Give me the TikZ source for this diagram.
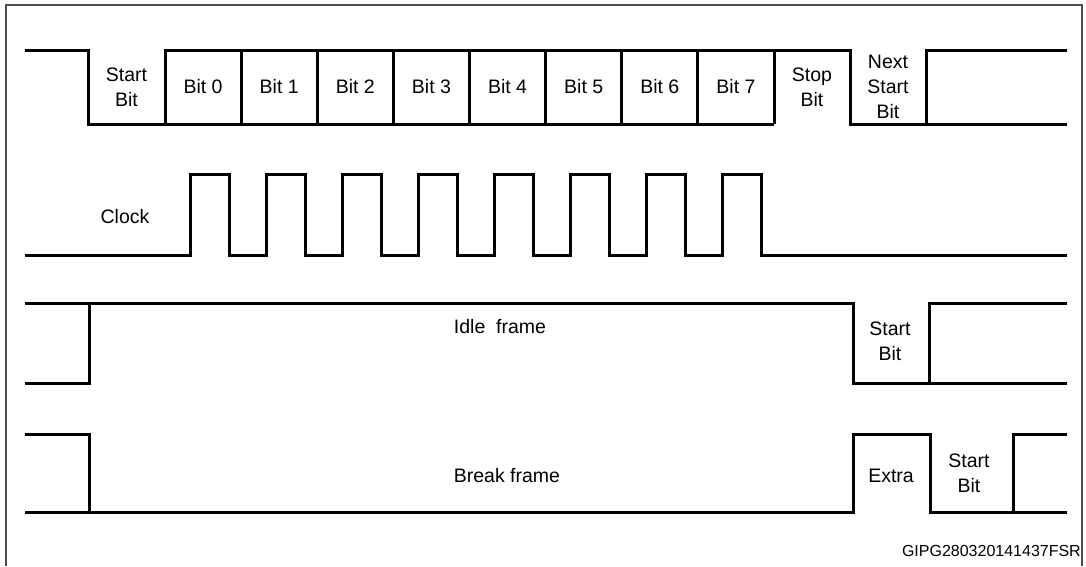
\documentclass[tikz,border=0pt]{standalone}
\usepackage{fontspec}
\setmainfont{Liberation Sans}
\begin{document}
\begin{tikzpicture}[x=1pt,y=-1pt,
  wave/.style={line width=3pt, draw=black},
  frameline/.style={line width=1.5pt, draw=black!70},
  lbl/.style={font=\fontsize{19.5}{25}\selectfont, align=center, inner sep=0pt},
  idlbl/.style={font=\fontsize{16}{19}\selectfont, inner sep=0pt}
  ]
\useasboundingbox (0,0) rectangle (1086,566);
% outer frame
\draw[frameline] (6,566) -- (6,5) -- (1082,5) -- (1082,566);

% ---- data line ----
\draw[wave] (25,50) -- (88,50) -- (88,124) -- (774,124);
\draw[wave] (165,124) -- (165,50) -- (850,50) -- (850,124) -- (926,124) -- (926,50) -- (1067,50);
\draw[wave] (926,124) -- (1067,124);
\foreach \k in {1,...,8} {
  \draw[wave] ({165+76.125*\k},50) -- ({165+76.125*\k},124);
}
\node[lbl] (startbit) at (126.5,87) {Start\\Bit};
\foreach \k in {0,...,7} {
  \node[lbl] (bit\k) at ({165+76.125*\k+38.06},87) {Bit \k};
}
\node[lbl] (stopbit) at (812,87) {Stop\\Bit};
\node[lbl] (nextstart) at (888,87) {Next\\Start\\Bit};

% ---- clock ----
\draw[wave] (25,255)
  \foreach \k in {0,...,7} { -- ({190.5+76*\k},255) -- ({190.5+76*\k},174.5) -- ({229.5+76*\k},174.5) -- ({229.5+76*\k},255) }
  -- (1067,255);
\node[lbl] (clock) at (125,217) {Clock};

% ---- idle frame ----
\draw[wave] (25,383) -- (89,383) -- (89,303);
\draw[wave] (25,303) -- (853,303) -- (853,383) -- (929,383) -- (929,303) -- (1067,303);
\draw[wave] (929,383) -- (1067,383);
\node[lbl] (idle) at (500,327) {Idle\ \ frame};
\node[lbl] (idlestart) at (890,341) {Start\\Bit};

% ---- break frame ----
\draw[wave] (25,434) -- (89,434) -- (89,512);
\draw[wave] (25,512) -- (853,512) -- (853,434) -- (930,434) -- (930,512) -- (1067,512);
\draw[wave] (1013,512) -- (1013,434) -- (1067,434);
\node[lbl] (break) at (507,476) {Break frame};
\node[lbl] (extra) at (891,476) {Extra};
\node[lbl] (breakstart) at (969,473) {Start\\Bit};

% ---- figure id ----
\node[idlbl, anchor=east] (figid) at (1081,551) {GIPG280320141437FSR};
\end{tikzpicture}
\end{document}
